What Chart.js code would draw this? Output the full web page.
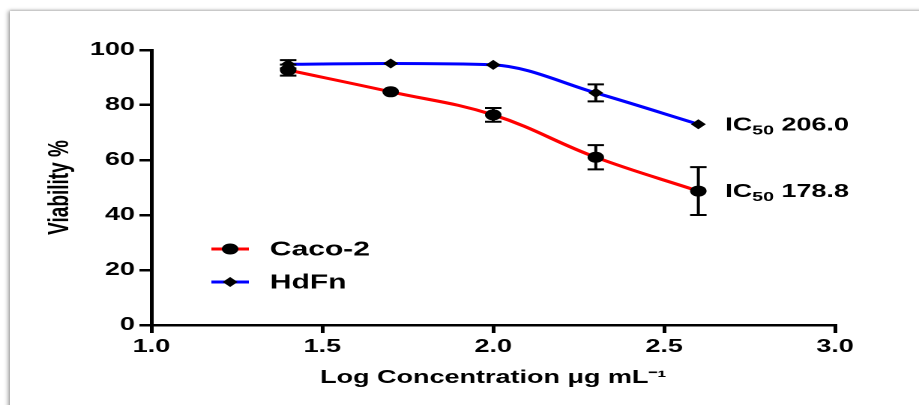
<!DOCTYPE html>
<html>
<head>
<meta charset="utf-8">
<script src="https://cdn.jsdelivr.net/npm/chart.js@4.4.1/dist/chart.umd.min.js"></script>
<style>
  html, body { margin: 0; padding: 0; background: #fff; overflow: hidden; }
  #card {
    position: absolute; left: 10px; top: 11px; width: 1000px; height: 500px;
    background: #fff;
    box-shadow: -2px 0 4px rgba(0, 0, 0, 0.35), 0 -1px 2px rgba(0, 0, 0, 0.12);
  }
  #chart { position: absolute; left: 0; top: 0; }
</style>
</head>
<body>
<div id="card"></div>
<!-- drawn narrow, shown stretched like the original figure -->
<canvas id="chart" width="613" height="405" style="width:919px;height:405px"></canvas>
<script>
const logConc = [1.4, 1.7, 2.0, 2.3, 2.6];
const cacoViability = [92.7, 84.8, 76.4, 61.0, 48.7];
const cacoError = [2.0, 0, 2.5, 4.4, 8.7];
const hdfnViability = [94.8, 95.1, 94.6, 84.4, 73.0];
const hdfnError = [1.5, 0, 0, 3.1, 0];
const xTicks = [1.0, 1.5, 2.0, 2.5, 3.0];
const yTicks = [0, 20, 40, 60, 80, 100];
const cacoIC50 = "178.8";
const hdfnIC50 = "206.0";

const FONT = "'Liberation Sans', Arial, sans-serif";

function toPoints(ys) {
  return logConc.map((x, i) => ({ x: x, y: ys[i] }));
}

// vertical error bars with caps
const errorBars = {
  id: "errorBars",
  afterDatasetsDraw(chart) {
    const { ctx, scales: { x, y } } = chart;
    ctx.save();
    ctx.strokeStyle = "#000";
    ctx.lineWidth = 2;
    chart.data.datasets.forEach((ds) => {
      ds.errors.forEach((e, i) => {
        if (!e) return;
        const px = x.getPixelForValue(ds.data[i].x);
        const top = y.getPixelForValue(ds.data[i].y + e);
        const bot = y.getPixelForValue(ds.data[i].y - e);
        ctx.beginPath();
        ctx.moveTo(px, top); ctx.lineTo(px, bot);
        ctx.moveTo(px - 5.5, top); ctx.lineTo(px + 5.5, top);
        ctx.moveTo(px - 5.5, bot); ctx.lineTo(px + 5.5, bot);
        ctx.stroke();
      });
    });
    ctx.restore();
  }
};

// "IC50 xxx" next to the last point of each curve
const icLabels = {
  id: "icLabels",
  afterDraw(chart) {
    const { ctx, scales: { x, y } } = chart;
    ctx.save();
    ctx.fillStyle = "#000";
    ctx.textBaseline = "alphabetic";
    chart.data.datasets.forEach((ds) => {
      const last = ds.data[ds.data.length - 1];
      let px = x.getPixelForValue(last.x) + 18;
      const py = y.getPixelForValue(last.y) + 6;
      ctx.font = "bold 18px " + FONT;
      ctx.fillText("IC", px, py);
      px += ctx.measureText("IC").width;
      ctx.font = "bold 13px " + FONT;
      ctx.fillText("50", px, py + 4);
      px += ctx.measureText("50").width;
      ctx.font = "bold 18px " + FONT;
      ctx.fillText(" " + ds.ic50, px, py);
    });
    ctx.restore();
  }
};

// legend drawn inside the plot area
const innerLegend = {
  id: "innerLegend",
  afterDraw(chart) {
    const { ctx, chartArea } = chart;
    ctx.save();
    chart.data.datasets.forEach((ds, i) => {
      const ly = chartArea.top + 199 + i * 33;
      const lx = chartArea.left + 40;
      ctx.strokeStyle = ds.borderColor;
      ctx.lineWidth = 3;
      ctx.beginPath();
      ctx.moveTo(lx, ly); ctx.lineTo(lx + 25, ly);
      ctx.stroke();
      Chart.helpers.drawPoint(ctx, {
        pointStyle: ds.pointStyle, radius: ds.pointRadius, borderWidth: 0
      }, lx + 12.5, ly);
      ctx.fillStyle = "#000";
      ctx.font = "bold 20px " + FONT;
      ctx.textBaseline = "middle";
      ctx.fillText(ds.label, chartArea.left + 79, ly + 1);
    });
    ctx.restore();
  }
};

new Chart(document.getElementById("chart"), {
  type: "line",
  data: {
    datasets: [
      {
        label: "Caco-2",
        data: toPoints(cacoViability),
        errors: cacoError,
        ic50: cacoIC50,
        borderColor: "#ff0000",
        borderWidth: 3,
        pointStyle: "circle",
        pointRadius: 5.5,
        pointBackgroundColor: "#000",
        pointBorderWidth: 0,
        tension: 0.4
      },
      {
        label: "HdFn",
        data: toPoints(hdfnViability),
        errors: hdfnError,
        ic50: hdfnIC50,
        borderColor: "#0000ff",
        borderWidth: 3,
        pointStyle: "rectRot",
        pointRadius: 5,
        pointBackgroundColor: "#000",
        pointBorderWidth: 0,
        cubicInterpolationMode: "monotone"
      }
    ]
  },
  options: {
    responsive: false,
    devicePixelRatio: 2,
    animation: false,
    layout: { padding: { top: 50, right: 56, left: 0, bottom: 0 } },
    plugins: { legend: { display: false }, tooltip: { enabled: false } },
    scales: {
      x: {
        type: "linear",
        min: 1, max: 3,
        afterBuildTicks: (s) => { s.ticks = xTicks.map((v) => ({ value: v })); },
        afterFit: (s) => { s.height = 80; },
        border: { color: "#000", width: 2.5 },
        grid: { drawOnChartArea: false, drawTicks: true, tickLength: 8, color: "#000", lineWidth: 2.5 },
        ticks: {
          color: "#000", padding: 3,
          font: { family: FONT, size: 18, weight: "bold" },
          callback: (v) => Number(v).toFixed(1)
        },
        title: {
          display: true,
          text: "Log Concentration \u03bcg mL\u207b\u00b9",
          color: "#000",
          font: { family: FONT, size: 18, weight: "bold" },
          padding: { top: 4, bottom: 16 }
        }
      },
      y: {
        min: 0, max: 100,
        afterBuildTicks: (s) => { s.ticks = yTicks.map((v) => ({ value: v })); },
        afterFit: (s) => { s.width = 101; },
        border: { color: "#000", width: 2.5 },
        grid: { drawOnChartArea: false, drawTicks: true, tickLength: 8, color: "#000", lineWidth: 2.5 },
        ticks: {
          color: "#000", padding: 3,
          font: { family: FONT, size: 18, weight: "bold" }
        },
        title: {
          display: true,
          text: "Viability %",
          color: "#000",
          font: { family: FONT, size: 19, weight: "bold" },
          padding: { top: 29, bottom: 0 }
        }
      }
    }
  },
  plugins: [errorBars, icLabels, innerLegend]
});
</script>
</body>
</html>
